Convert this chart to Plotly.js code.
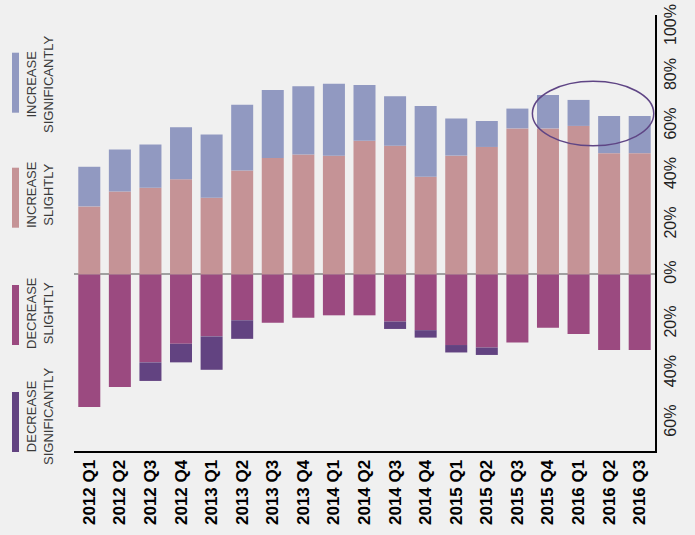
<!DOCTYPE html>
<html>
<head>
<meta charset="utf-8">
<script src="https://cdn.plot.ly/plotly-3.0.1.min.js"></script>
<style>html,body{margin:0;padding:0;background:#f0f0f0;}#chart{width:695px;height:535px;}</style>
</head>
<body>
<div id="chart"></div>
<script>
// ---- data (percent of respondents) ----
const quarters = ["2012 Q1","2012 Q2","2012 Q3","2012 Q4","2013 Q1","2013 Q2","2013 Q3","2013 Q4",
  "2014 Q1","2014 Q2","2014 Q3","2014 Q4","2015 Q1","2015 Q2","2015 Q3","2015 Q4","2016 Q1","2016 Q2","2016 Q3"];
const increaseSlightly      = [27.5,33.5,35,38.5,31,42,47,48.5,48,54,52,39.5,48,51.5,59,59,60,49,49];
const increaseSignificantly = [16,17,17.5,21,25.5,26.5,27.5,27.5,29,22.5,20,28.5,15,10.5,8,13.5,10.5,15,15];
const decreaseSlightly      = [53.5,45.5,35.5,28,25,18.5,19.5,17.5,16.5,16.5,19,22.5,28.5,29.5,27.5,21.5,24,30.5,30.5];
const decreaseSignificantly = [0,0,7.5,7.5,13.5,7.5,0,0,0,0,3,3,3,3,0,0,0,0,0];
const tickValues = [100,80,60,40,20,0,-20,-40,-60];
const tickLabels = ["100%","80%","60%","40%","20%","0%","20%","40%","60%"];
const seriesNames = ["INCREASE<br>SIGNIFICANTLY","INCREASE<br>SLIGHTLY","DECREASE<br>SLIGHTLY","DECREASE<br>SIGNIFICANTLY"];
const colors = {incSig:"#9199c1", incSl:"#c59396", decSl:"#9b4a80", decSig:"#624381"};

// ---- layout geometry ----
const W = 695, H = 535;
const M = {l:74, r:40, t:15, b:84};
const pw = W - M.l - M.r, ph = H - M.t - M.b;
const px = p => (p - M.l) / pw;          // pixel x -> paper x
const py = p => (H - M.b - p) / ph;      // pixel y -> paper y

const traces = [
  {name:"Increase slightly", y:increaseSlightly, color:colors.incSl},
  {name:"Increase significantly", y:increaseSignificantly, color:colors.incSig},
  {name:"Decrease slightly", y:decreaseSlightly.map(v=>-v), color:colors.decSl},
  {name:"Decrease significantly", y:decreaseSignificantly.map(v=>-v), color:colors.decSig}
].map(s => ({type:"bar", x:quarters, y:s.y, name:s.name, marker:{color:s.color, line:{width:0}}, hoverinfo:"x+y+name"}));

// legend (left side, rotated)
const legendItems = [
  {label:seriesNames[0], color:colors.incSig, sw:[52.7,112.7], ty:84},
  {label:seriesNames[1], color:colors.incSl,  sw:[167.7,227.7], ty:195},
  {label:seriesNames[2], color:colors.decSl,  sw:[285,345], ty:313},
  {label:seriesNames[3], color:colors.decSig, sw:[392,452], ty:416}
];
const shapes = legendItems.map(it => ({
  type:"rect", xref:"paper", yref:"paper",
  x0:px(12), x1:px(19), y0:py(it.sw[1]), y1:py(it.sw[0]),
  fillcolor:it.color, line:{width:0}
}));
shapes.push({type:"circle", xref:"x", yref:"y", x0:14.49, x1:18.46, y0:52, y1:78,
  line:{color:"#5f4585", width:1.5}, fillcolor:"rgba(0,0,0,0)"});

const annotations = legendItems.map(it => ({
  xref:"paper", yref:"paper", x:px(40), y:py(it.ty), text:it.label, showarrow:false,
  textangle:-90, align:"center", xanchor:"center", yanchor:"middle",
  font:{family:"Liberation Sans, Arial, sans-serif", size:13, color:"#3a3a3a"}
}));

const layout = {
  width:W, height:H, margin:M,
  paper_bgcolor:"#f0f0f0", plot_bgcolor:"#f0f0f0",
  barmode:"relative", bargap:0.28, showlegend:false,
  font:{family:"Liberation Sans, Arial, sans-serif", color:"#222"},
  xaxis:{type:"category", showline:true, linecolor:"#000", linewidth:2, showgrid:false,
    ticks:"", tickangle:-90, tickfont:{size:17, weight:"bold", color:"#000"}, fixedrange:true},
  yaxis:{side:"right", range:[-71.3,104.8], showline:true, linecolor:"#000", linewidth:2, showgrid:false,
    zeroline:true, zerolinecolor:"#a0a0a0", zerolinewidth:2, layer:"above traces",
    tickvals:tickValues, ticktext:tickLabels, tickangle:-90, ticks:"",
    tickfont:{size:16, color:"#222"}, fixedrange:true},
  shapes:shapes, annotations:annotations
};

Plotly.newPlot("chart", traces, layout, {displayModeBar:false, staticPlot:true});
</script>
</body>
</html>
